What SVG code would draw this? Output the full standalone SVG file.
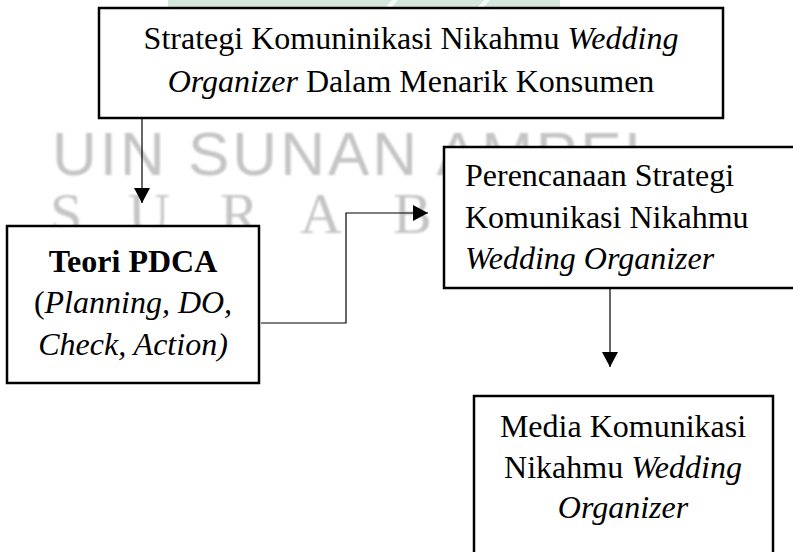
<svg xmlns="http://www.w3.org/2000/svg" width="793" height="552" viewBox="0 0 793 552">
<style>
.box{fill:#fff;stroke:#000;stroke-width:2.5}
.t{font-family:"Liberation Serif","Times New Roman",serif;font-size:32px;fill:#000}
.i{font-style:italic}
.b{font-weight:bold}
.conn{fill:none;stroke:#000;stroke-width:1.2}
.wm{fill:#c4c4c4;filter:url(#blur)}
</style>
<defs>
<filter id="blur" x="-5%" y="-20%" width="110%" height="140%"><feGaussianBlur stdDeviation="1.3"/></filter>
<marker id="arr" markerUnits="userSpaceOnUse" markerWidth="16" markerHeight="17" refX="15" refY="8" orient="auto">
<path d="M0,0 L15,8 L0,16 z" fill="#000"/>
</marker>
</defs>
<rect width="793" height="552" fill="#fff"/>
<g id="background">
<polygon points="168,0 560,0 560,9 168,9" fill="#d3e8da"/>
<polygon points="384,9 392,0 398,0 390,9" fill="#ffffff" opacity="0.8"/>
<polygon points="476,9 484,0 490,0 482,9" fill="#ffffff" opacity="0.8"/>
<text class="wm" x="52" y="175" font-family="Liberation Sans, Arial, sans-serif" font-size="62" letter-spacing="3">UIN SUNAN AMPEL</text>
<g class="wm" font-family="Liberation Serif, Times New Roman, serif" font-size="58">
<text x="50" y="233">S</text>
<text x="128" y="233">U</text>
<text x="220" y="233">R</text>
<text x="300" y="233">A</text>
<text x="393" y="233">B</text>
</g>
</g>
<g id="connectors">
<line class="conn" x1="142" y1="119" x2="142" y2="203" marker-end="url(#arr)"/>
<polyline class="conn" points="261,323 346,323 346,213 428,213" marker-end="url(#arr)"/>
<line class="conn" x1="610" y1="289" x2="610" y2="367" marker-end="url(#arr)"/>
</g>
<g id="node-strategi">
<rect class="box" x="99" y="8" width="624" height="110"/>
<text class="t" x="411" y="49" text-anchor="middle">Strategi Komuninikasi Nikahmu <tspan class="i">Wedding</tspan></text>
<text class="t" x="411" y="92" text-anchor="middle"><tspan class="i">Organizer</tspan> Dalam Menarik Konsumen</text>
</g>
<g id="node-pdca">
<rect class="box" x="7" y="226" width="252" height="157"/>
<text class="t b" x="133" y="272" text-anchor="middle">Teori PDCA</text>
<text class="t" x="133" y="313" text-anchor="middle">(<tspan class="i">Planning, DO,</tspan></text>
<text class="t i" x="133" y="355" text-anchor="middle">Check, Action)</text>
</g>
<g id="node-perencanaan">
<rect class="box" x="444" y="147" width="360" height="141"/>
<text class="t" x="465" y="186">Perencanaan Strategi</text>
<text class="t" x="465" y="228">Komunikasi Nikahmu</text>
<text class="t i" x="465" y="269">Wedding Organizer</text>
</g>
<g id="node-media">
<rect class="box" x="474" y="396" width="299" height="170"/>
<text class="t" x="623" y="437" text-anchor="middle">Media Komunikasi</text>
<text class="t" x="623" y="478" text-anchor="middle">Nikahmu <tspan class="i">Wedding</tspan></text>
<text class="t i" x="623" y="518" text-anchor="middle">Organizer</text>
</g>
</svg>
